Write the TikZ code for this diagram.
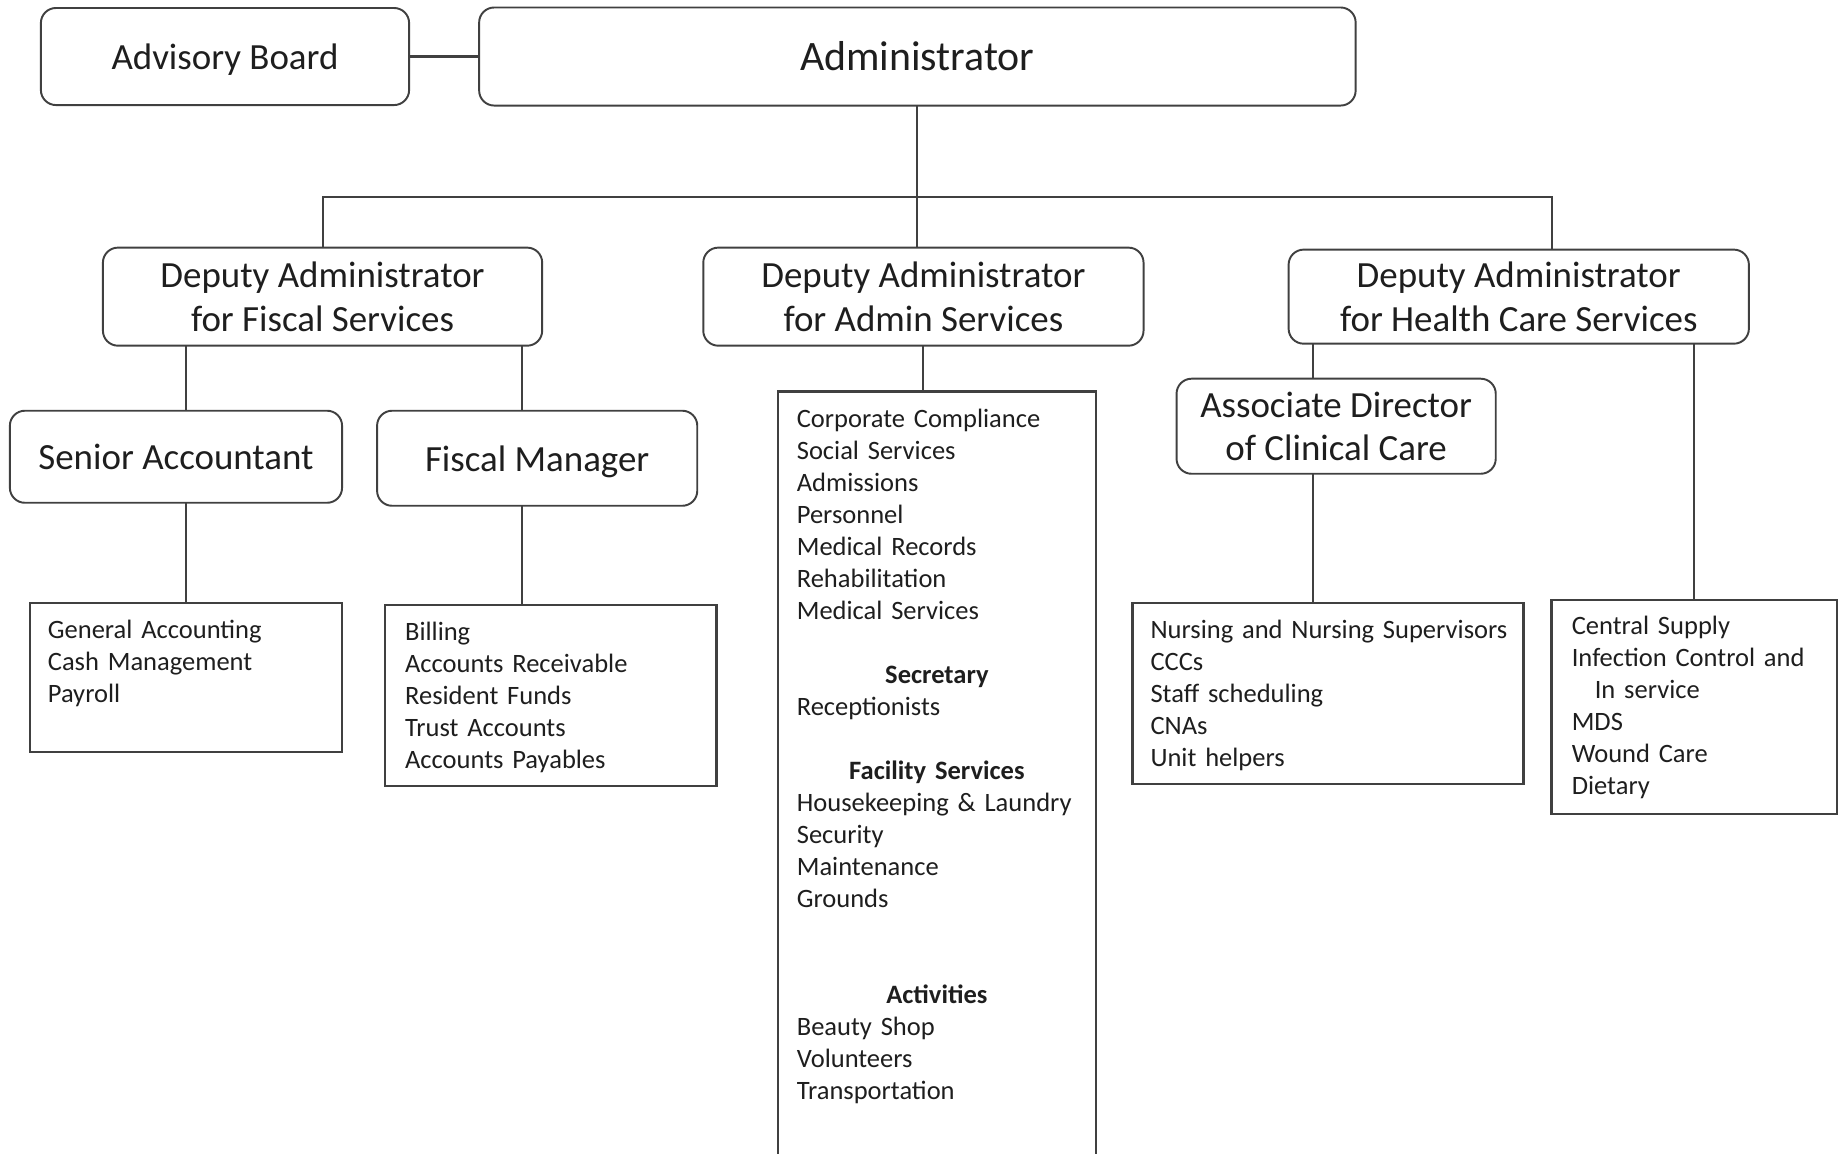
\documentclass[tikz,border=0pt]{standalone}
\usepackage{fontspec}
\setmainfont{Carlito}
\usetikzlibrary{positioning, calc}
\definecolor{mline}{HTML}{404040}
\definecolor{mtext}{HTML}{1E1E1E}
\tikzstyle{role} = [rectangle, rounded corners=0.15cm, draw=mline, line width=0.55pt, align=center, text=mtext, inner sep=0pt, outer sep=0pt, font=\fontsize{10.5}{12.35}\selectfont]
\tikzstyle{duties} = [rectangle, draw=mline, line width=0.75pt, align=left, text=mtext, inner ysep=0pt, inner xsep=0.19cm, outer sep=0pt, font=\fontsize{7.54}{9.1}\selectfont]
\tikzstyle{link} = [mline, line width=0.6pt]

\begin{document}
\begin{tikzpicture}[x=0.01cm, y=-0.01cm]
  \useasboundingbox (0,0) rectangle (1839,1153);
  \clip (0,0) rectangle (1839,1153);
  % top row
  \node (adv) [role, minimum width=3.68cm, minimum height=0.97cm, text depth=0pt] at (225,56.5) {Advisory Board};
  \node (admin) [role, minimum width=8.76cm, minimum height=0.98cm, right=0.7cm of adv, font=\fontsize{11.9}{14}\selectfont] {Administrator};
  \draw [link] (adv) -- (admin);
  % deputies
  \node (depA) [role, minimum width=4.4cm, minimum height=0.98cm, below=1.42cm of admin, xshift=0.06cm] {Deputy Administrator\\for Admin Services};
  \node (depF) [role, minimum width=4.39cm, minimum height=0.98cm, left=1.61cm of depA] {Deputy Administrator\\for Fiscal Services};
  \node (depH) [role, minimum width=4.6cm, minimum height=0.94cm, right=1.45cm of depA] {Deputy Administrator\\for Health Care Services};
  \coordinate (hub) at ([yshift=-0.91cm]admin.south);
  \draw [link] (admin.south) -- (admin.south |- depA.north);
  \draw [link] (depF) |- (hub) -| ([xshift=0.33cm]depH.north);
  % fiscal side
  \node (senior) [role, minimum width=3.32cm, minimum height=0.92cm, below=0.65cm of depF, xshift=-1.465cm] {Senior Accountant};
  \node (fiscal) [role, minimum width=3.2cm, minimum height=0.95cm, text depth=0pt, right=0.35cm of senior.north east, anchor=north west] {Fiscal Manager};
  \node (genAcc) [duties, inner xsep=0.18cm, text width=2.76cm, text height=0.36cm, text depth=1.13cm, below=1.0cm of senior, xshift=0.1cm] {General Accounting\\Cash Management\\Payroll};
  \node (billing) [duties, inner xsep=0.2cm, text width=2.91cm, text height=0.36cm, text depth=1.45cm, below=0.99cm of fiscal, xshift=0.135cm] {Billing\\Accounts Receivable\\Resident Funds\\Trust Accounts\\Accounts Payables};
  \coordinate (fmx) at ([xshift=-0.285cm]billing.north);
  \draw [link] (genAcc.north |- depF.south) -- (genAcc.north |- senior.north);
  \draw [link] (genAcc.north |- senior.south) -- (genAcc.north);
  \draw [link] (fmx |- depF.south) -- (fmx |- fiscal.north);
  \draw [link] (fmx |- fiscal.south) -- (fmx);
  % admin side
  \node (admList) [duties, text width=2.8cm, text height=0.36cm, text depth=7.72cm, below=0.46cm of depA, xshift=0.135cm] {Corporate Compliance\\Social Services\\Admissions\\Personnel\\Medical Records\\Rehabilitation\\Medical Services\\[9.1pt]
    \leavevmode\hfill\textbf{Secretary}\hfill\null\\Receptionists\\[9.1pt]
    \leavevmode\hfill\textbf{Facility Services}\hfill\null\\Housekeeping \& Laundry\\Security\\Maintenance\\Grounds\\[18.2pt]
    \leavevmode\hfill\textbf{Activities}\hfill\null\\Beauty Shop\\Volunteers\\Transportation};
  \draw [link] (depA.south) -- (depA.south |- admList.north);
  % health care side
  \node (assoc) [role, minimum width=3.19cm, minimum height=0.95cm, below=0.35cm of depH, xshift=-1.825cm] {Associate Director\\of Clinical Care};
  \node (nursing) [duties, inner xsep=0.18cm, text width=3.55cm, text height=0.36cm, text depth=1.45cm, below=1.29cm of assoc, xshift=-0.08cm] {\mbox{Nursing and Nursing Supervisors}\\CCCs\\Staff scheduling\\CNAs\\Unit helpers};
  \node (central) [duties, inner xsep=0.2cm, text width=2.45cm, text height=0.35cm, text depth=1.79cm, right=0.28cm of nursing.north east, anchor=north west, yshift=0.03cm] {Central Supply\\Infection Control and\\\hspace*{0.23cm}In service\\MDS\\Wound Care\\Dietary};
  \coordinate (acx) at ([xshift=-0.235cm]assoc.north);
  \draw [link] (acx |- depH.south) -- (acx);
  \draw [link] (acx |- assoc.south) -- (acx |- nursing.north);
  \draw [link] (central.north |- depH.south) -- (central.north);
\end{tikzpicture}
\end{document}
